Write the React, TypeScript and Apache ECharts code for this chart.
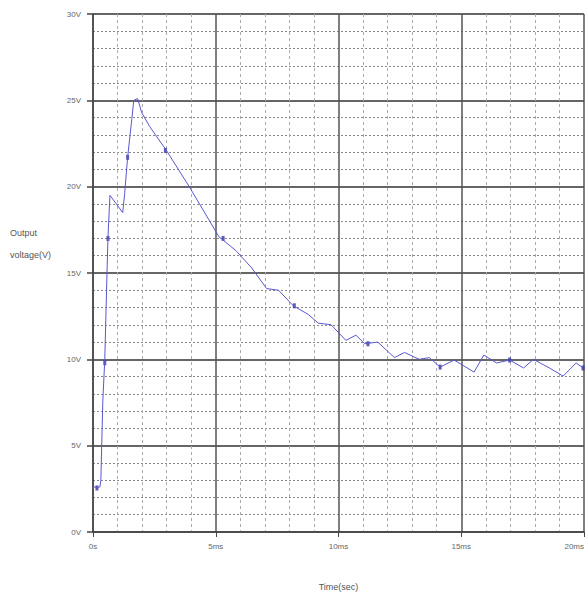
import React, { useEffect, useRef } from "react";
import * as echarts from "echarts";

// time in ms, voltage in V
const timeMs = [0, 0.28, 0.32, 0.4, 0.48, 0.57, 0.61, 0.69, 1.21, 1.29, 1.41, 1.58, 1.66, 1.82, 1.98, 2.3, 2.99, 3.92, 5.13, 5.82, 6.46, 7.07, 7.56, 8.16, 8.77, 9.17, 9.7, 10.3, 10.71, 11.07, 11.6, 12.28, 12.69, 13.29, 13.7, 14.14, 14.71, 15.52, 15.92, 16.44, 16.97, 17.54, 17.94, 18.59, 19.15, 19.68, 19.96];
const voltage = [2.6, 2.6, 3.0, 7.6, 10.0, 15.0, 17.1, 19.5, 18.5, 19.6, 21.7, 23.9, 25.0, 25.1, 24.3, 23.5, 22.1, 20.0, 17.1, 16.3, 15.3, 14.1, 14.0, 13.1, 12.6, 12.1, 12.0, 11.1, 11.4, 10.9, 11.0, 10.1, 10.4, 10.0, 10.1, 9.55, 9.96, 9.26, 10.25, 9.79, 9.96, 9.5, 10.0, 9.5, 9.03, 9.79, 9.5];

const markerTimeMs = [0.16, 0.48, 0.61, 1.41, 2.95, 5.3, 8.2, 11.2, 14.14, 16.97, 19.96];
const markerVoltage = [2.55, 9.8, 17.0, 21.7, 22.1, 17.0, 13.1, 10.9, 9.55, 9.96, 9.5];

const xTickLabels: Record<number, string> = { 0: "0s", 5: "5ms", 10: "10ms", 15: "15ms", 20: "20ms" };
const yTickLabels: Record<number, string> = { 0: "0V", 5: "5V", 10: "10V", 15: "15V", 20: "20V", 25: "25V", 30: "30V" };

const xTitle = "Time(sec)";
const yTitle = "Output\nvoltage(V)";

export default function App() {
  const ref = useRef<HTMLDivElement>(null);
  useEffect(() => {
    if (!ref.current) return;
    const chart = echarts.init(ref.current, undefined, { renderer: "svg" });
    const font = "Liberation Sans";
    chart.setOption({
      animation: false,
      backgroundColor: "#ffffff",
      grid: { left: 93, right: 0, top: 14, bottom: 65, containLabel: false },
      xAxis: {
        type: "value",
        min: 0,
        max: 20,
        interval: 5,
        name: xTitle,
        nameLocation: "middle",
        nameGap: 50,
        nameTextStyle: { fontFamily: font, fontSize: 9, color: "#555" },
        axisLine: { show: true, lineStyle: { color: "#444", width: 1.5 } },
        axisTick: { show: true, length: 5, lineStyle: { color: "#444" } },
        axisLabel: {
          formatter: (v: number) => xTickLabels[v] ?? "",
          fontFamily: font,
          fontSize: 8,
          color: "#666",
          margin: 10,
          alignMaxLabel: "right",
        },
        splitLine: { show: true, lineStyle: { color: "#555", width: 1.5, type: "solid" } },
        minorTick: { show: false, splitNumber: 5 },
        minorSplitLine: { show: true, lineStyle: { color: "#aaa", width: 1, type: [3, 3] } },
      },
      yAxis: {
        type: "value",
        min: 0,
        max: 30,
        interval: 5,
        axisLine: { show: true, lineStyle: { color: "#444", width: 1.5 } },
        axisTick: { show: true, length: 6, lineStyle: { color: "#444", width: 1.5 } },
        axisLabel: {
          formatter: (v: number) => yTickLabels[v] ?? "",
          fontFamily: font,
          fontSize: 8,
          color: "#666",
          margin: 12,
        },
        splitLine: { show: true, lineStyle: { color: "#666", width: 2, type: "solid" } },
        minorTick: { show: false, splitNumber: 5 },
        minorSplitLine: { show: true, lineStyle: { color: "#888", width: 1, type: [2, 2] } },
      },
      graphic: [
        {
          type: "text",
          left: 10,
          top: 222,
          style: {
            text: yTitle,
            fontFamily: font,
            fontSize: 9,
            lineHeight: 22,
            fill: "#555",
          },
        },
      ],
      series: [
        {
          type: "line",
          data: timeMs.map((t, i) => [t, voltage[i]]),
          showSymbol: false,
          lineStyle: { color: "#5858d0", width: 1 },
          itemStyle: { color: "#5858d0" },
        },
        {
          type: "scatter",
          data: markerTimeMs.map((t, i) => [t, markerVoltage[i]]),
          symbol: "rect",
          symbolSize: [3, 5],
          itemStyle: { color: "#3535a8" },
        },
      ],
    });
    return () => chart.dispose();
  }, []);
  return (
    <div
      ref={ref}
      style={{ position: "fixed", left: 0, top: 0, width: 587, height: 597 }}
    />
  );
}
